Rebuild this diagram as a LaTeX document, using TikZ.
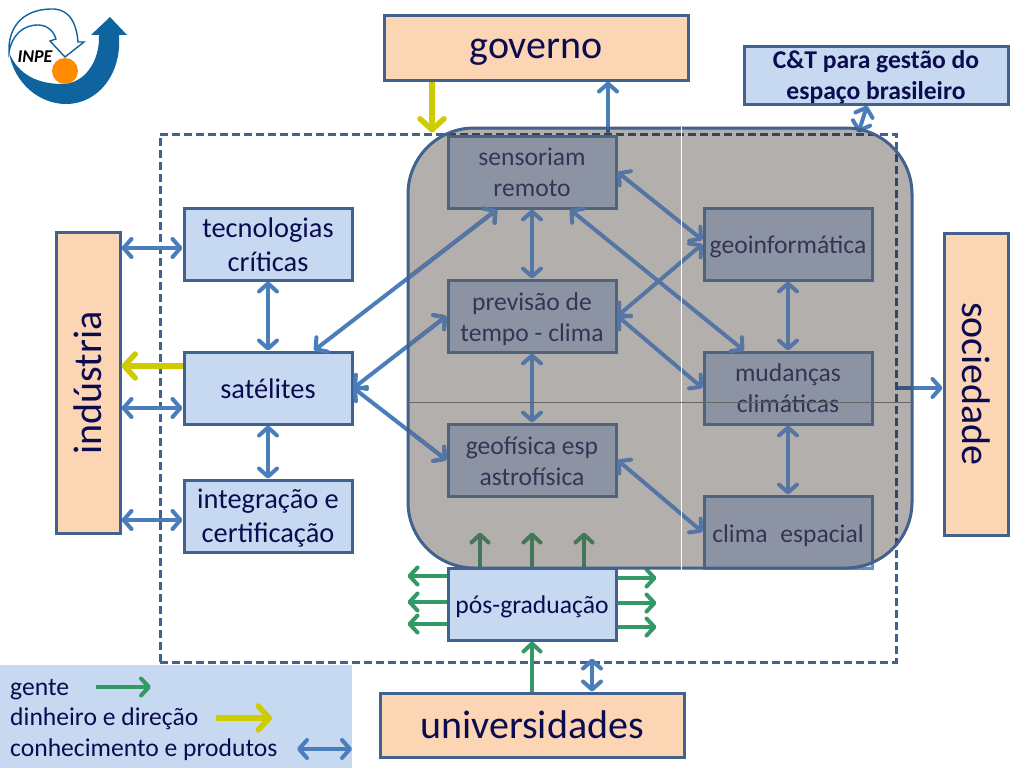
\documentclass[tikz,border=0pt]{standalone}
\usepackage{fontspec}
\setmainfont{Carlito}
\usetikzlibrary{positioning,calc,arrows.meta}
\definecolor{inkblue}{HTML}{0B0B50}
\definecolor{edgeblue}{HTML}{41628F}
\definecolor{flowblue}{HTML}{4A7EBB}
\definecolor{innerblue}{HTML}{74ADF2}
\definecolor{flowgreen}{HTML}{339966}
\definecolor{flowyellow}{HTML}{CCCC00}
\definecolor{paleblue}{HTML}{C6D9F1}
\definecolor{palepeach}{HTML}{FCD5B5}
\definecolor{areashade}{HTML}{140500}
\definecolor{scitext}{HTML}{414E7D}
\definecolor{sciedge}{HTML}{6D90B8}
\definecolor{logoblue}{HTML}{0F639F}
\newcommand{\headroom}[1]{\rule{0pt}{#1}}
\tikzset{
	box/.style = {draw=edgeblue, line width=3pt, inner sep=0pt, align=center, text=inkblue, font=\fontsize{28.4}{34}\selectfont},
	lab/.style = {box, fill=paleblue, minimum width=168pt, minimum height=72pt},
	sci/.style = {lab, draw=sciedge, text=scitext, font=\fontsize{25.6}{31}\selectfont},
	actor/.style = {box, fill=palepeach, font=\fontsize{40}{48}\selectfont},
	legendtext/.style = {text=inkblue, font=\fontsize{25.6}{31}\selectfont, anchor=base west, inner sep=0pt},
	know/.style = {draw=flowblue, line width=4pt, {Straight Barb[length=8pt,width=18pt,round]}-{Straight Barb[length=8pt,width=18pt,round]}},
	knowin/.style = {know, draw=innerblue},
	knowto/.style = {know, -{Straight Barb[length=8pt,width=18pt,round]}},
	people/.style = {draw=flowgreen, line width=4pt, -{Straight Barb[length=8pt,width=17pt,round]}},
	money/.style = {draw=flowyellow, line width=5.5pt, -{Straight Barb[length=11pt,width=24pt,round]}},
}
\begin{document}
\begin{tikzpicture}[x=1pt, y=-1pt]
	\useasboundingbox (0,0) rectangle (1024,768);

	% logo
	\fill[logoblue] (9,52) .. controls (14,84) and (40,104) .. (66,104) .. controls (98,104) and (122,74) .. (119,35)
		-- (127,35) -- (110,17) -- (91,35) -- (99,35) .. controls (100,62) and (84,84) .. (62,84) .. controls (40,84) and (18,76) .. (9,52) -- cycle;
	\draw[logoblue, line width=1.4pt, fill=white] (9,52) .. controls (8,30) and (20,10) .. (50,9) .. controls (64,8) and (76,16) .. (78,42)
		-- (84,42) -- (65,57) -- (50,41) -- (56,39) .. controls (54,32) and (48,25) .. (38,25) .. controls (22,25) and (12,36) .. (9,52) -- cycle;
	\node (logotext) at (35,57) {\fontsize{18}{18}\selectfont\bfseries\itshape INPE};
	\fill[orange!90!yellow] (65,71) circle (13);

	% limit
	\node (limit) [draw=edgeblue, line width=3pt, dash pattern=on 8pt off 4pt, minimum width=736pt, minimum height=528pt, inner sep=0pt] at (528,398) {};

	% actors
	\node (governo) [actor, minimum width=304pt, minimum height=64pt] at (536,48) {\headroom{28pt}governo};
	\node (universidades) [actor, minimum width=304pt, minimum height=64pt] at (532,725) {universidades};
	\node (industria) [actor, minimum width=64pt, minimum height=301pt] at (88,383) {\rotatebox{90}{indústria}};
	\node (sociedade) [actor, minimum width=64pt, minimum height=302pt] at (976,384) {\rotatebox{-90}{sociedade}};
	\node (gestao) [lab, minimum width=264pt, minimum height=57pt, font=\fontsize{25.6}{31}\selectfont\bfseries] at (876,75.5) {\headroom{22pt}C\&T para gestão do\\espaço brasileiro};

	% left column
	\node (tecnologias) [lab] at (268,244) {\headroom{22pt}tecnologias\\críticas};
	\node (satelites) [lab] at (268,388) {\headroom{22pt}satélites};
	\node (integracao) [lab] at (268,516) {\headroom{24pt}integração e\\certificação};

	% science boxes
	\node (sensoriam) [sci] at (532,172) {sensoriam\\remoto};
	\node (previsao) [sci] at (532,316) {\headroom{25pt}previsão de\\tempo - clima};
	\node (geofisica) [sci] at (532,460) {\headroom{20pt}geofísica esp\\astrofísica};
	\node (geoinfo) [sci] at (788,244) {\headroom{23pt}geoinformática};
	\node (mudancas) [sci] at (788,388) {mudanças\\climáticas};
	\node (clima) [sci] at (788,532) {\headroom{25pt}clima\; espacial};
	\node (posgrad) [lab, font=\fontsize{25.6}{31}\selectfont] at (532,604) {\headroom{23pt}pós-graduação};

	% legend
	\node (legend) [fill=paleblue, minimum width=352pt, minimum height=103pt, inner sep=0pt] at (176,716.5) {};
	\node (gente) [legendtext] at (10,695) {gente};
	\node (dinheiro) [legendtext] at (10,725) {dinheiro e direção};
	\node (conhecimento) [legendtext] at (10,756) {conhecimento e produtos};
	\coordinate (gentea) at (96,687);
	\coordinate (genteb) at (151,687);
	\coordinate (dinheiroa) at (216,718);
	\coordinate (dinheirob) at (272,718);
	\coordinate (conhecimentoa) at (297,749);
	\coordinate (conhecimentob) at (352,749);
	\draw[people] (gentea) -- (genteb);
	\draw[money] (dinheiroa) -- (dinheirob);
	\draw[know] (conhecimentoa) -- (conhecimentob);

	% knowledge flows
	\draw[know] (industria.east |- 0,248) -- (tecnologias.west |- 0,248);
	\draw[know] (industria.east |- 0,408) -- (satelites.west |- 0,408);
	\draw[know] (industria.east |- 0,520) -- (integracao.west |- 0,520);
	\draw[know] (tecnologias) -- (satelites);
	\draw[know] (satelites) -- (integracao);
	\draw[know] ($(satelites.north)+(46,0)$) -- ($(sensoriam.south)+(-35,0)$);
	\draw[know] (satelites.east) -- (previsao.west);
	\draw[know] (satelites.east) -- (geofisica.west);
	\draw[knowin] (sensoriam) -- (previsao);
	\draw[knowin] (previsao) -- (geofisica);
	\draw[knowin] (sensoriam.east) -- ($(geoinfo.west)+(0,-4)$);
	\draw[knowin] ($(sensoriam.south)+(38,0)$) -- ($(mudancas.north)+(-44,0)$);
	\draw[knowin] (previsao.east) -- (geoinfo.west);
	\draw[knowin] (previsao.east) -- (mudancas.west);
	\draw[knowin] (geofisica.east) -- (clima.west);
	\draw[knowin] (geoinfo) -- (mudancas);
	\draw[knowin] (mudancas) -- (clima);
	\draw[know] ($(gestao.south)+(-9,0)$) -- ($(limit.north east)+(-39,0)$);
	\draw[know] ($(universidades.north)+(60,0)$) -- ($(limit.south)+(64,-5)$);
	\draw[knowto] (limit.east |- mudancas.east) -- (sociedade.west |- mudancas.east);
	\draw[knowto] (limit.north -| 608,0) -- (governo.south -| 608,0);

	% people flows
	\draw[people] (universidades.north) -- (posgrad.south);
	\foreach \dx in {-52,0,52}
		\draw[people, draw=flowgreen!80!white] ($(posgrad.north)+(\dx,0)$) -- ++(0,-34);
	\foreach \yy in {576,602,624}
		\draw[people] (posgrad.west |- 0,\yy) -- ++(-39,0);
	\foreach \yy in {578,603,627}
		\draw[people] (posgrad.east |- 0,\yy) -- ++(39,0);

	% money flows
	\draw[money] (governo.south -| 432,0) -- (limit.north -| 432,0);
	\draw[money] (satelites.west |- 0,366) -- (industria.east |- 0,366);

	% area on top
	\begin{scope}
		\clip[rounded corners=66pt] (408,128) rectangle (912,568);
		\draw[knowin] ($(satelites.north)+(46,0)$) -- ($(sensoriam.south)+(-35,0)$);
		\draw[knowin] (satelites.east) -- (previsao.west);
		\draw[knowin] (satelites.east) -- (geofisica.west);
	\end{scope}
	\node (area) [draw=edgeblue, line width=3pt, fill=areashade, fill opacity=.32, draw opacity=1, rounded corners=66pt, minimum width=504pt, minimum height=440pt, inner sep=0pt] at (660,348) {};
	\draw[white, line width=1pt] (area.north -| 681,0) -- (area.south -| 681,0);
	\draw[black!60, line width=0.5pt] (area.west |- 0,402) -- (area.east |- 0,402);
\end{tikzpicture}
\end{document}
